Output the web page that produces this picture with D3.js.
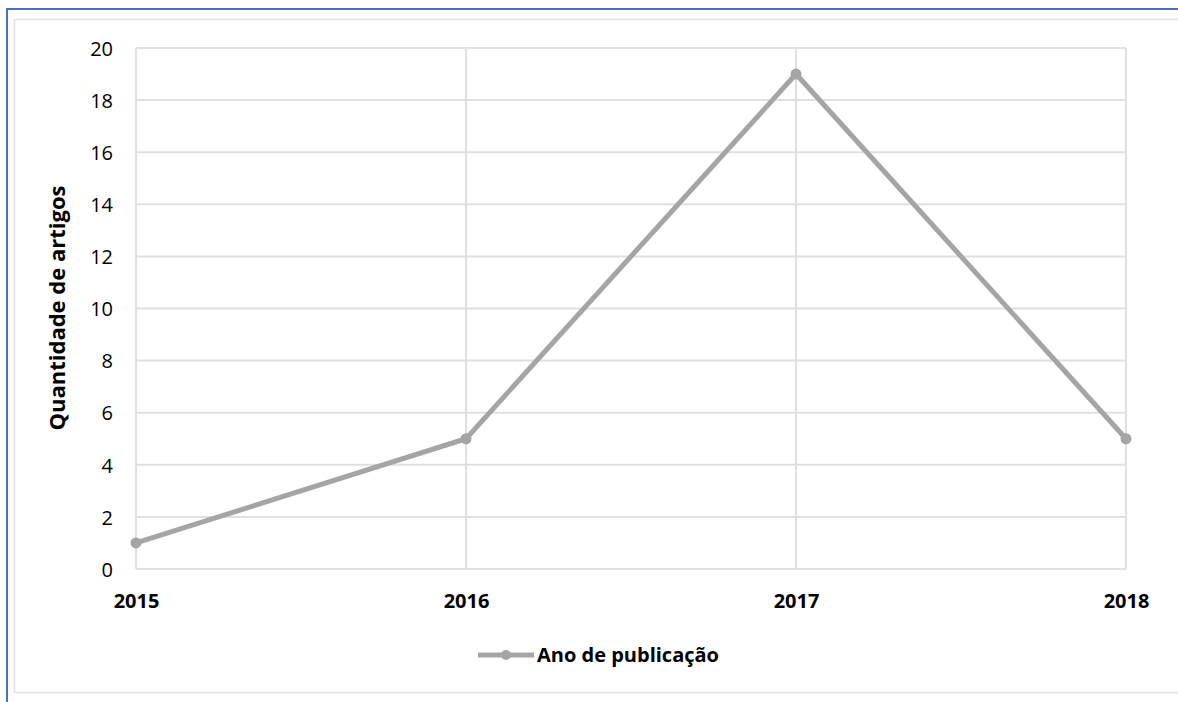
<!DOCTYPE html>
<html><head><meta charset="utf-8">
<script src="https://cdn.jsdelivr.net/npm/d3@7"></script>
<style>body{margin:0;background:#fff;}svg{display:block;}</style>
</head><body>
<script>
const years = ["2015","2016","2017","2018"];
const counts = [1, 5, 19, 5];
const yTicks = [0,2,4,6,8,10,12,14,16,18,20];
const seriesName = "Ano de publicação";
const yTitle = "Quantidade de artigos";

const W = 1178, H = 702;
const svg = d3.select("body").append("svg").attr("width", W).attr("height", H);
const font = "'Open Sans', sans-serif";

// frame
svg.append("line").attr("x1",7).attr("x2",W).attr("y1",9).attr("y2",9).attr("stroke","#4472C4").attr("stroke-width",2);
svg.append("line").attr("x1",7).attr("x2",7).attr("y1",8).attr("y2",H).attr("stroke","#4472C4").attr("stroke-width",2);
svg.append("path").attr("d",`M${W},19.5H14.5V692.5H${W}`).attr("fill","none").attr("stroke","#e3e3e3").attr("stroke-width",1.5);

const x = d3.scalePoint().domain(years).range([136,1126]);
const y = d3.scaleLinear().domain([0,20]).range([569,48]);

const g = svg.append("g");
g.selectAll("line.h").data(yTicks).join("line").attr("class","h")
  .attr("x1",136).attr("x2",1126).attr("y1",d=>y(d)).attr("y2",d=>y(d))
  .attr("stroke","#e0e0e0").attr("stroke-width",2);
g.selectAll("line.v").data(years).join("line").attr("class","v")
  .attr("x1",d=>x(d)).attr("x2",d=>x(d)).attr("y1",y(20)).attr("y2",y(0))
  .attr("stroke","#e0e0e0").attr("stroke-width",2);

const yAxis = d3.axisLeft(y).tickValues(yTicks).tickSize(0).tickPadding(0);
const ya = svg.append("g").attr("transform","translate(113,0)").call(yAxis);
ya.select(".domain").remove();
ya.selectAll("text").attr("font-family",font).attr("font-size",20).attr("fill","#000").attr("dy","0.36em");

const xAxis = d3.axisBottom(x).tickSize(0).tickPadding(0);
const xa = svg.append("g").attr("transform","translate(0,608)").call(xAxis);
xa.select(".domain").remove();
xa.selectAll("text").attr("font-family",font).attr("font-size",20).attr("font-weight","bold").attr("fill","#000").attr("y",0).attr("dy","0");

const line = d3.line().x((d,i)=>x(years[i])).y(d=>y(d));
svg.append("path").datum(counts).attr("d",line).attr("fill","none")
  .attr("stroke","#a5a5a5").attr("stroke-width",5).attr("stroke-linejoin","round");
svg.selectAll("circle.pt").data(counts).join("circle").attr("class","pt")
  .attr("cx",(d,i)=>x(years[i])).attr("cy",d=>y(d)).attr("r",5.5).attr("fill","#a5a5a5");

svg.append("text").attr("transform","translate(65,308) rotate(-90)")
  .attr("text-anchor","middle").attr("font-family",font).attr("font-size",22).attr("font-weight","bold")
  .text(yTitle);

svg.append("line").attr("x1",478).attr("x2",534).attr("y1",655).attr("y2",655).attr("stroke","#a5a5a5").attr("stroke-width",5);
svg.append("circle").attr("cx",506).attr("cy",655).attr("r",5).attr("fill","#a5a5a5");
svg.append("text").attr("x",537).attr("y",662).attr("font-family",font)
  .attr("font-size",20).attr("font-weight","bold").text(seriesName);
</script>
</body></html>
